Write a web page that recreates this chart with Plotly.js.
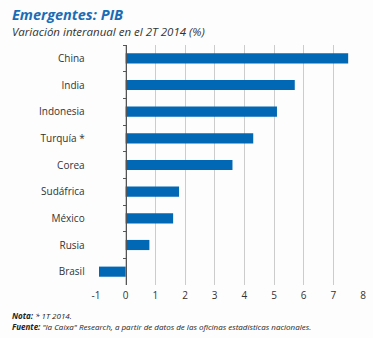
<!DOCTYPE html>
<html><head><meta charset="utf-8">
<script src="https://cdn.plot.ly/plotly-3.0.1.min.js"></script>
<style>html,body{margin:0;padding:0;background:#fdfdfd;}</style>
</head><body><div id="chart" style="width:373px;height:338px;"></div>
<script>
const categories = ["China","India","Indonesia","Turquía *","Corea","Sudáfrica","México","Rusia","Brasil"];
const values = [7.5, 5.7, 5.1, 4.3, 3.6, 1.8, 1.6, 0.8, -0.9];
const xTicks = [-1,0,1,2,3,4,5,6,7,8];
const FONT = "Open Sans, Noto Sans, sans-serif";
const xmin = -1, xmax = 8;
const LX = (10 - 96) / 267;
const data = [{
  type: "bar", orientation: "h",
  x: values, y: categories,
  marker: {color: "#0068b4"},
  width: 0.38,
  hoverinfo: "none"
}];
const layout = {
  width: 373, height: 338,
  paper_bgcolor: "#fdfdfd", plot_bgcolor: "#fdfdfd",
  margin: {l: 96, r: 10, t: 45, b: 53},
  showlegend: false,
  font: {family: FONT, color: "#333", size: 10},
  xaxis: {
    range: [xmin, xmax], tickvals: xTicks, ticktext: xTicks.map(String),
    showgrid: true, gridcolor: "#cccccc", gridwidth: 1,
    zeroline: false, showline: false, ticks: "",
    ticklabelstandoff: 3,
    tickfont: {family: FONT, size: 10, color: "#333"}, fixedrange: true
  },
  yaxis: {
    type: "category", categoryorder: "array", categoryarray: categories,
    autorange: "reversed",
    anchor: "free", position: (0 - xmin) / (xmax - xmin),
    showline: true, linecolor: "#555", linewidth: 1.5,
    ticks: "outside", tickson: "boundaries", ticklen: 3, tickcolor: "#555", tickwidth: 1,
    showgrid: false, zeroline: false,
    ticklabelstandoff: 39,
    tickfont: {family: FONT, size: 10, color: "#333"}, fixedrange: true
  },
  annotations: [
    {xref: "paper", yref: "paper", x: LX, y: 1 + 31/240, xanchor: "left", yanchor: "middle",
     text: "<b><i>Emergentes: PIB</i></b>", showarrow: false,
     font: {family: FONT, size: 14.5, color: "#1a6db5"}},
    {xref: "paper", yref: "paper", x: LX, y: 1 + 13/240, xanchor: "left", yanchor: "middle",
     text: "<i>Variación interanual en el 2T 2014 (%)</i>", showarrow: false,
     font: {family: FONT, size: 11.5, color: "#333"}},
    {xref: "paper", yref: "paper", x: LX, y: -30/240, xanchor: "left", yanchor: "middle",
     text: "<b><i>Nota:</i></b><i> * 1T 2014.</i>", showarrow: false,
     font: {family: FONT, size: 8, color: "#222"}},
    {xref: "paper", yref: "paper", x: LX, y: -41/240, xanchor: "left", yanchor: "middle",
     text: "<b><i>Fuente:</i></b><i> \"la Caixa\" Research, a partir de datos de las oficinas estadísticas nacionales.</i>", showarrow: false,
     font: {family: FONT, size: 8, color: "#222"}}
  ]
};
Plotly.newPlot("chart", data, layout, {displayModeBar: false, staticPlot: true});
</script></body></html>
